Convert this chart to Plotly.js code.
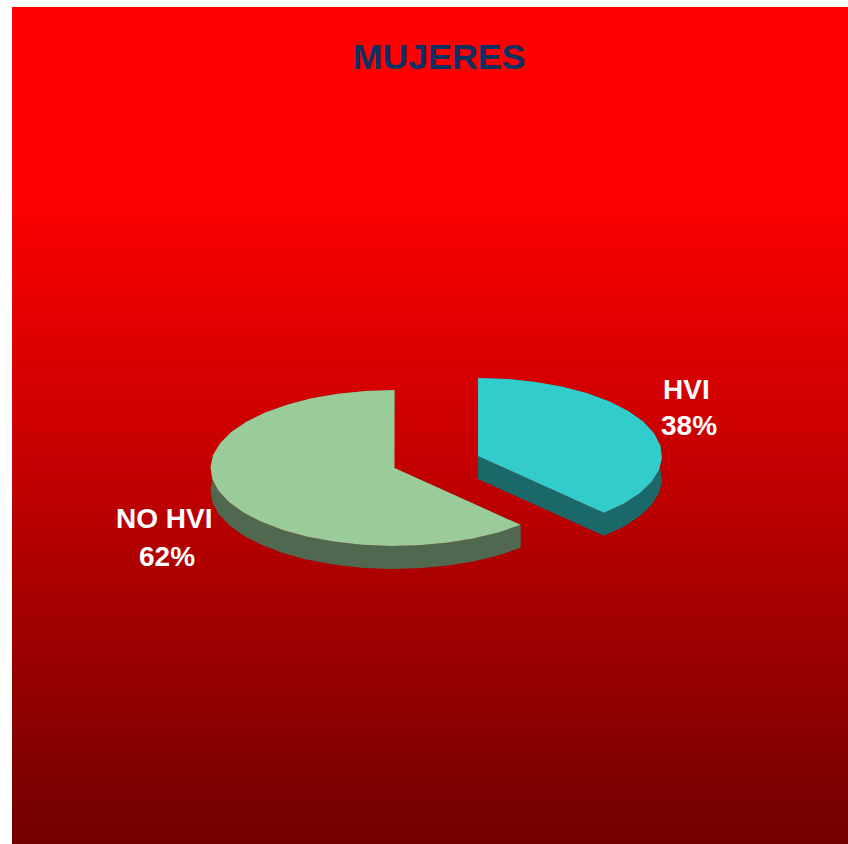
<!DOCTYPE html>
<html>
<head>
<meta charset="utf-8">
<script src="https://cdn.plot.ly/plotly-3.0.1.min.js"></script>
<style>
html,body{margin:0;padding:0;background:#fff;width:848px;height:844px;overflow:hidden}
#bg{position:absolute;left:12px;top:7px;width:836px;height:837px;
background:linear-gradient(to bottom,#ff0000 0%,#ff0000 22%,#720000 100%)}
#chart{position:absolute;left:0;top:0;width:848px;height:844px}
</style>
</head>
<body>
<div id="bg"></div>
<div id="chart"></div>
<script>
// Chart values
const categories = ["HVI", "NO HVI"];
const shares = [38, 62];
const chartTitle = "MUJERES";

// Styling / projection settings
const topColors = ["#33CCCC", "#99CC99"];
const sideColors = ["#1A6868", "#4F684F"];
const W = 848, H = 844;
const RX = 184, RY = 78;                 // pixels per axis unit
const CX = 394.5, CY = 468;              // pixel position of the axis origin
const DEPTH = 23 / RY;                   // pie thickness, y axis units
const explode = [[83.5 / RX, 12 / RY], [0, 0]];
// label anchors as pixel offsets from the axis origin: [name line, percent line]
const nameAt = [[292, 79], [-231, -50]];
const pctAt = [[294.5, 43], [-228, -88]];
const STEP = 9;

const total = shares.reduce((a, b) => a + b, 0);

function arc(a0, a1) {
  const pts = [];
  const n = Math.max(1, Math.round((a1 - a0) / STEP));
  for (let i = 0; i <= n; i++) pts.push(a0 + (a1 - a0) * i / n);
  return pts;
}
function pt(deg, o, dz) {
  const r = deg * Math.PI / 180;
  return [o[0] + Math.sin(r), o[1] + Math.cos(r) - dz];
}
function poly(points, color) {
  return {
    type: "scatter", mode: "lines", fill: "toself", fillcolor: color,
    x: points.map(p => p[0]), y: points.map(p => p[1]),
    line: {width: 0, color: color}, hoverinfo: "skip", showlegend: false
  };
}
function label(text, at) {
  return {
    xref: "x", yref: "y", x: at[0] / RX, y: at[1] / RY,
    xanchor: "center", yanchor: "middle", showarrow: false, align: "center",
    text: text,
    font: {family: "Liberation Sans, Arial, sans-serif", size: 28, color: "#FFFFFF", weight: 700}
  };
}

const sides = [], tops = [], annotations = [];
let start = 0;
categories.forEach((name, i) => {
  const sweep = shares[i] / total * 360, end = start + sweep, o = explode[i];
  const angles = arc(start, end);
  const apex = [o[0], o[1]];
  const apexLow = [o[0], o[1] - DEPTH];
  // outer rim
  const rim = angles.map(a => pt(a, o, 0)).concat(angles.slice().reverse().map(a => pt(a, o, DEPTH)));
  sides.push(poly(rim, sideColors[i]));
  // radial cut faces
  sides.push(poly([apex, pt(start, o, 0), pt(start, o, DEPTH), apexLow], sideColors[i]));
  sides.push(poly([apex, pt(end, o, 0), pt(end, o, DEPTH), apexLow], sideColors[i]));
  // top face
  tops.push(poly([apex].concat(angles.map(a => pt(a, o, 0))), topColors[i]));
  annotations.push(label(name, nameAt[i]));
  annotations.push(label(shares[i] + "%", pctAt[i]));
  start = end;
});

const hidden = {visible: false, fixedrange: true, showgrid: false, zeroline: false};
Plotly.newPlot("chart", sides.concat(tops), {
  width: W, height: H,
  margin: {l: 0, r: 0, t: 0, b: 0, pad: 0},
  paper_bgcolor: "rgba(0,0,0,0)", plot_bgcolor: "rgba(0,0,0,0)",
  showlegend: false,
  title: {
    text: "<b>" + chartTitle + "</b>",
    x: 439 / W, xref: "paper", xanchor: "center",
    y: 1 - 57 / H, yref: "container", yanchor: "middle",
    font: {family: "Liberation Sans, Arial, sans-serif", size: 35.7, color: "#0B3162"}
  },
  xaxis: Object.assign({range: [-CX / RX, (W - CX) / RX]}, hidden),
  yaxis: Object.assign({range: [(CY - H) / RY, CY / RY]}, hidden),
  annotations: annotations
}, {displayModeBar: false, staticPlot: true});
</script>
</body>
</html>
